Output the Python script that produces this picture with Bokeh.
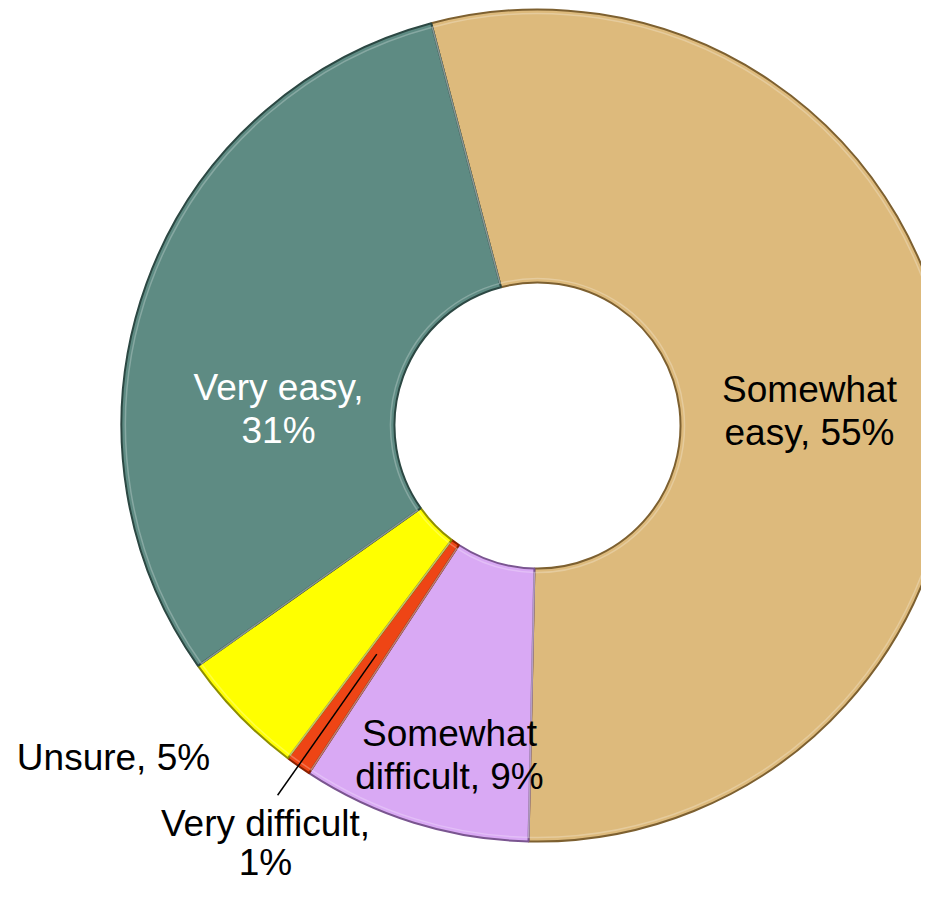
import math
from bokeh.plotting import figure
from bokeh.models import Range1d, ColumnDataSource
from bokeh.core.properties import value
from bokeh.embed import file_html
from bokeh.resources import INLINE

# ---- data ----
categories = ["Somewhat easy", "Somewhat difficult", "Very difficult", "Unsure", "Very easy"]
values = [55, 9, 1, 5, 31]
label_lines = [["Somewhat", "easy, 55%"],
               ["Somewhat", "difficult, 9%"],
               ["Very difficult,", "1%"],
               ["Unsure, 5%"],
               ["Very easy,", "31%"]]
colors = ["#DDBA7C", "#D9A9F4", "#EE4515", "#FFFF00", "#5E8B83"]
edge_colors = ["#7d6030", "#7a5590", "#8a2000", "#8f8f00", "#2c4843"]
text_colors = ["black", "black", "black", "black", "white"]

# ---- layout (image pixel coordinates, origin top-left of the plot) ----
W, H = 921, 885
cx, cy_img = 537, 425
r_out, r_in = 416, 143
start_cw = -14.8  # degrees clockwise from 12 o'clock
label_pos = [(809, 389), (449, 733), (265, 823), (113, 757), (278, 387)]
line_steps = [43, 43, 39, 43, 43]
font = "Liberation Sans"
leader_outer = 452

def dy(y_img):
    return H - y_img

p = figure(width=W, height=H, output_backend="svg", toolbar_location=None,
           x_range=Range1d(0, W), y_range=Range1d(0, H),
           x_axis_location=None, y_axis_location=None, min_border=0,
           background_fill_color="white", border_fill_color="white")
p.outline_line_color = None
p.grid.visible = False

total = float(sum(values))
cum = start_cw
starts, ends, mids = [], [], []
for v in values:
    span = v / total * 360.0
    c0, c1 = cum, cum + span
    starts.append(math.radians(90 - c1))
    ends.append(math.radians(90 - c0))
    mids.append((c0 + c1) / 2)
    cum = c1

src = ColumnDataSource(dict(x=[cx] * len(values), y=[dy(cy_img)] * len(values),
                            start=starts, end=ends, color=colors, edge=edge_colors,
                            cat=categories, val=values))
p.annular_wedge(x="x", y="y", inner_radius=r_in, outer_radius=r_out,
                start_angle="start", end_angle="end", direction="anticlock",
                fill_color="color", line_color="edge", line_width=2, source=src)
# subtle highlight rim
p.annular_wedge(x="x", y="y", inner_radius=r_in + 4, outer_radius=r_out - 4,
                start_angle="start", end_angle="end", direction="anticlock",
                fill_color=None, line_color="white", line_alpha=0.25, line_width=1.5,
                source=src)

# leader line for the small "Very difficult" slice
m = math.radians(mids[2])
r_a = (r_in + r_out) / 2
p.line([cx + r_a * math.sin(m), cx + leader_outer * math.sin(m)],
       [dy(cy_img - r_a * math.cos(m)), dy(cy_img - leader_outer * math.cos(m))],
       line_color="black", line_width=1.5)

# labels
tx, ty, tt, tc = [], [], [], []
for lines, (lx, ly), col, step in zip(label_lines, label_pos, text_colors, line_steps):
    for k, s in enumerate(lines):
        tx.append(lx)
        ty.append(dy(ly + k * step))
        tt.append(s)
        tc.append(col)
p.text(x=tx, y=ty, text=tt, text_color=tc, text_align="center",
       text_baseline="alphabetic", text_font=value(font), text_font_size="37px")

open("out.html", "w").write(file_html(p, INLINE))
